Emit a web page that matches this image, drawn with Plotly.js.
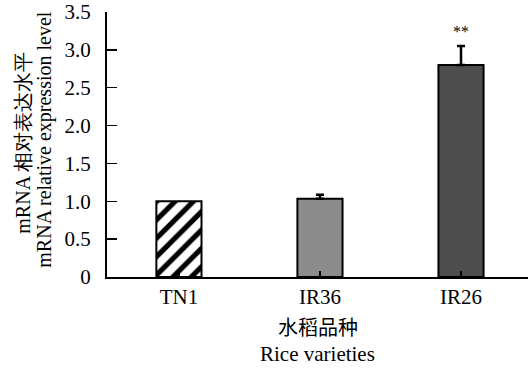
<!DOCTYPE html>
<html>
<head>
<meta charset="utf-8">
<script src="https://cdn.plot.ly/plotly-3.0.1.min.js"></script>
<style>html,body{margin:0;padding:0;background:#fff;}#chart{width:528px;height:371px;}</style>
</head>
<body>
<div id="chart"></div>
<script>
const categories = ["TN1", "IR36", "IR26"];
const values = [1.0, 1.035, 2.8];
const errors = [0, 0.05, 0.25];
const significance = ["", "", "**"];
const yTickVals = [0, 0.5, 1.0, 1.5, 2.0, 2.5, 3.0, 3.5];
const yTickText = ["0", "0.5", "1.0", "1.5", "2.0", "2.5", "3.0", "3.5"];

const serif = "Liberation Serif, Times New Roman, serif";
const cjk = "Noto Sans CJK SC, serif";

const barColors = ["#ffffff", "#8c8c8c", "#4d4d4d"];
const patterns = ["/", "", ""];

const traces = categories.map((c, i) => {
  const t = {
    type: "bar",
    x: [c],
    y: [values[i]],
    width: 0.32,
    marker: {
      color: barColors[i],
      line: {color: "#000", width: 2}
    },
    hoverinfo: "none"
  };
  if (patterns[i]) {
    t.marker.pattern = {shape: patterns[i], fgcolor: "#000", bgcolor: "#ffffff", size: 13, solidity: 0.4, fillmode: "replace"};
  }
  if (errors[i] > 0) {
    t.error_y = {type: "data", symmetric: false, array: [errors[i]], arrayminus: [0],
      color: "#000", thickness: 2.5, width: 4, visible: true};
  }
  return t;
});

const annotations = [];
categories.forEach((c, i) => {
  if (significance[i]) {
    annotations.push({
      x: c, y: values[i] + errors[i], xref: "x", yref: "y",
      text: significance[i], showarrow: false, yanchor: "bottom", yshift: 4,
      font: {family: serif, size: 16, color: "#000"}
    });
  }
});
// y-axis titles (two lines)
annotations.push({
  xref: "paper", yref: "paper", x: -0.2, y: 0.506, xanchor: "center", yanchor: "middle",
  text: "mRNA 相对表达水平", textangle: -90, showarrow: false,
  font: {family: serif, size: 20, color: "#000"}
});
annotations.push({
  xref: "paper", yref: "paper", x: -0.148, y: 0.517, xanchor: "center", yanchor: "middle",
  text: "mRNA relative expression level", textangle: -90, showarrow: false,
  font: {family: serif, size: 20, color: "#000"}
});
// x-axis titles
annotations.push({
  xref: "paper", yref: "paper", x: 0.5, y: -0.185, xanchor: "center", yanchor: "middle",
  text: "水稻品种", showarrow: false,
  font: {family: cjk, size: 20, color: "#000"}
});
annotations.push({
  xref: "paper", yref: "paper", x: 0.5, y: -0.29, xanchor: "center", yanchor: "middle",
  text: "Rice varieties", showarrow: false,
  font: {family: serif, size: 21, color: "#000"}
});

const layout = {
  width: 528, height: 371,
  margin: {l: 107, r: 0, t: 12, b: 94, pad: 0},
  paper_bgcolor: "#fff", plot_bgcolor: "#fff",
  showlegend: false,
  barmode: "overlay",
  xaxis: {
    range: [-0.51, 2.475],
    categoryorder: "array", categoryarray: categories,
    showline: true, linecolor: "#000", linewidth: 2,
    ticks: "inside", ticklen: 6, tickwidth: 1.5, tickcolor: "#000",
    showgrid: false, zeroline: false,
    layer: "above traces",
    tickfont: {family: serif, size: 21, color: "#000"},
    fixedrange: true
  },
  yaxis: {
    range: [0, 3.5],
    tickvals: yTickVals, ticktext: yTickText,
    showline: true, linecolor: "#000", linewidth: 2,
    ticks: "inside", ticklen: 10, tickwidth: 1.5, tickcolor: "#000",
    showgrid: false, zeroline: false,
    ticklabelstandoff: 10,
    tickfont: {family: serif, size: 21, color: "#000"},
    fixedrange: true
  },
  annotations: annotations
};

Plotly.newPlot("chart", traces, layout, {displayModeBar: false, staticPlot: true});
</script>
</body>
</html>
